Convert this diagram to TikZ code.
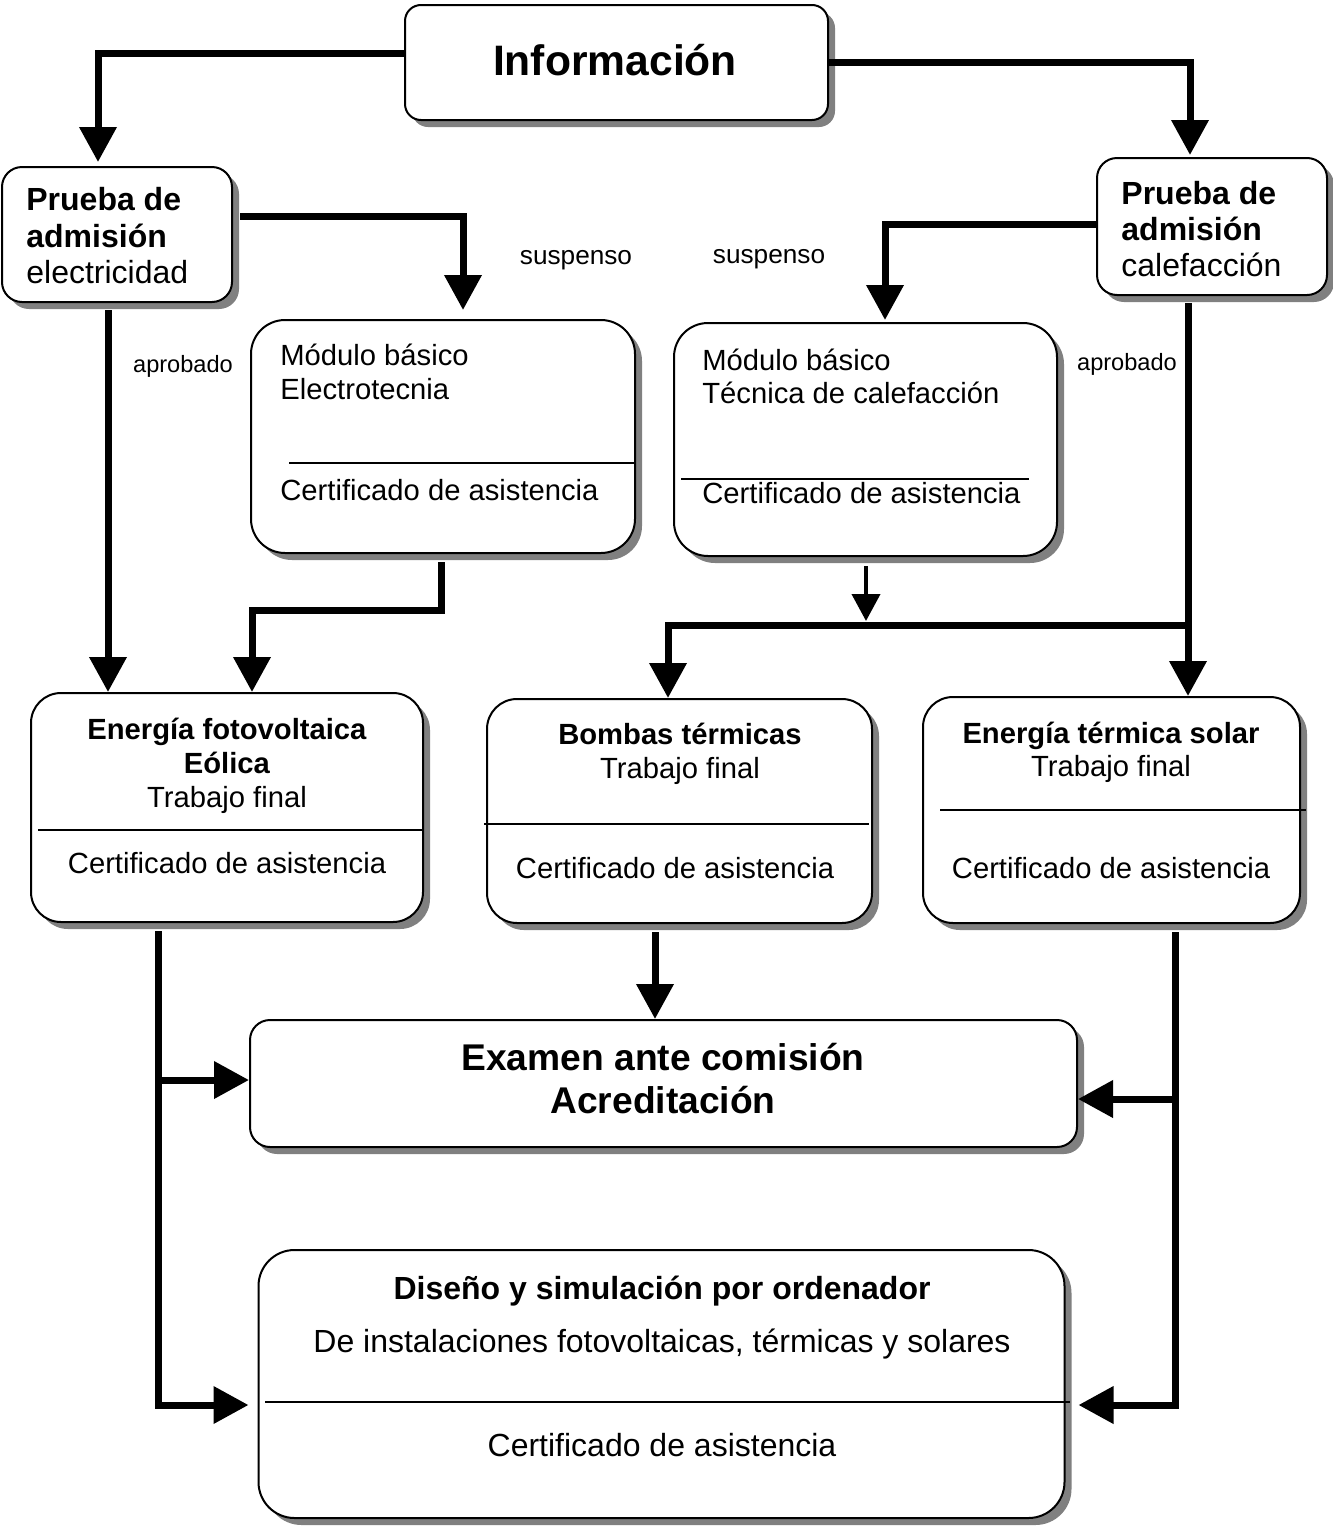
\documentclass[tikz,border=0pt]{standalone}
\usepackage{fontspec}
\setmainfont{Liberation Sans}
\usetikzlibrary{arrows.meta,shadows,positioning}

\tikzset{
  box/.style={draw,line width=1pt,fill=white,rounded corners=#1,inner sep=0pt,
    drop shadow={opacity=1,fill=black!50,shadow xshift=3.5pt,shadow yshift=-3.5pt}},
  box/.default=10pt,
  tx/.style={inner sep=0pt,font=\fontsize{14.6}{17}\selectfont},
  tb/.style={inner sep=0pt,font=\fontsize{16}{19}\selectfont},
  lab/.style={inner sep=0pt,font=\fontsize{#1}{#1}\selectfont},
  rule/.style={line width=0.9pt},
  link/.style={line width=3.5pt},
  flow/.style={line width=3.5pt,-{Triangle[length=17.5pt,width=18pt]}},
  thinflow/.style={line width=2pt,-{Triangle[length=13.5pt,width=14pt]}},
}

\begin{document}
\begin{tikzpicture}[x=0.5pt,y=-0.5pt]
\useasboundingbox (0,0) rectangle (1333,1526);

\node (info) [box=8pt,minimum width=211.5pt,minimum height=57.5pt] at (616.5,62.5) {};
\node (pe) [box,minimum width=115pt,minimum height=67.5pt] at (117,234.5) {};
\node (pc) [box,minimum width=115pt,minimum height=68.5pt] at (1212,226.5) {};
\node (me) [box=17pt,minimum width=192pt,minimum height=116.5pt] at (443,436.5) {};
\node (mc) [box=17pt,minimum width=191.5pt,minimum height=116.5pt] at (865.5,439.5) {};
\node (ef) [box=15pt,minimum width=196pt,minimum height=114.5pt] at (227,807.5) {};
\node (bt) [box=15pt,minimum width=192.5pt,minimum height=112pt] at (679.5,811) {};
\node (ets) [box=15pt,minimum width=188.5pt,minimum height=113pt] at (1111.5,810) {};
\node (ex) [box=10pt,minimum width=413.5pt,minimum height=63.5pt] at (663.5,1083.5) {};
\node (ds) [box=18pt,minimum width=403pt,minimum height=134pt] at (661.5,1384) {};

\node (infot) [anchor=base,inner sep=0pt,font=\fontsize{21.3}{25}\selectfont] at (615,75) {\textbf{Información}};

\node (pe1) [tb,anchor=base west] at (26,210) {\textbf{Prueba de}};
\node (pe2) [tb,anchor=base west] at (26,247) {\textbf{admisión}};
\node (pe3) [tb,anchor=base west] at (26,283) {electricidad};
\node (pc1) [tb,anchor=base west] at (1121,204) {\textbf{Prueba de}};
\node (pc2) [tb,anchor=base west] at (1121,240) {\textbf{admisión}};
\node (pc3) [tb,anchor=base west] at (1121,276) {calefacción};

\node (me1) [tx,anchor=base west] at (280,365) {Módulo básico};
\node (me2) [tx,anchor=base west] at (280,399) {Electrotecnia};
\draw[rule] (289,463) -- (635,463);
\node (me3) [tx,anchor=base west] at (280,500) {Certificado de asistencia};

\node (mc1) [tx,anchor=base west] at (702,370) {Módulo básico};
\node (mc2) [tx,anchor=base west] at (702,403) {Técnica de calefacción};
\draw[rule] (681,479) -- (1029,479);
\node (mc3) [tx,anchor=base west] at (702,503) {Certificado de asistencia};

\node (ef1) [tx,anchor=base] at (227,739) {\textbf{Energía fotovoltaica}};
\node (ef2) [tx,anchor=base] at (227,773) {\textbf{Eólica}};
\node (ef3) [tx,anchor=base] at (227,807) {Trabajo final};
\draw[rule] (38,830) -- (423,830);
\node (ef4) [tx,anchor=base] at (227,873) {Certificado de asistencia};

\node (bt1) [tx,anchor=base] at (680,744) {\textbf{Bombas térmicas}};
\node (bt2) [tx,anchor=base] at (680,778) {Trabajo final};
\draw[rule] (484,824) -- (869,824);
\node (bt3) [tx,anchor=base] at (675,878) {Certificado de asistencia};

\node (ets1) [tx,anchor=base] at (1111,743) {\textbf{Energía térmica solar}};
\node (ets2) [tx,anchor=base] at (1111,776) {Trabajo final};
\draw[rule] (940,810) -- (1306,810);
\node (ets3) [tx,anchor=base] at (1111,878) {Certificado de asistencia};

\node (ex1) [anchor=base,inner sep=0pt,font=\fontsize{18.6}{22}\selectfont] at (663,1070) {\textbf{Examen ante comisión}};
\node (ex2) [anchor=base,inner sep=0pt,font=\fontsize{18.6}{22}\selectfont] at (663,1113) {\textbf{Acreditación}};

\node (ds1) [tb,anchor=base] at (662,1299) {\textbf{Diseño y simulación por ordenador}};
\node (ds2) [tb,anchor=base] at (662,1352) {De instalaciones fotovoltaicas, térmicas y solares};
\draw[rule] (265,1402) -- (1070,1402);
\node (ds3) [tb,anchor=base] at (662,1456) {Certificado de asistencia};

\node (s1) [lab=13.1,anchor=base] at (576,264) {suspenso};
\node (s2) [lab=13.1,anchor=base] at (769,263) {suspenso};
\node (a1) [lab=11.8,anchor=base] at (183,372) {aprobado};
\node (a2) [lab=11.8,anchor=base] at (1127,370) {aprobado};

\coordinate (tpe) at (98,162);
\coordinate (tpc) at (1190,155);
\coordinate (tme) at (463,310);
\coordinate (tmc) at (885,320);
\coordinate (xpe) at (108,0);
\coordinate (xpc) at (1188,0);
\coordinate (kme) at (441,610);
\coordinate (kef) at (252,610);
\coordinate (jm) at (866,625);
\coordinate (jb) at (668,625);
\coordinate (xbt) at (655,0);
\coordinate (jl) at (158,1405);
\coordinate (jy) at (158,1080);
\coordinate (jr) at (1175,1405);
\coordinate (jx) at (1175,1099);

\draw[flow] ([yshift=4.75pt]info.west) -| (tpe);
\draw[flow] (info.east) -| (tpc);
\draw[flow,shorten <=3.5pt] ([yshift=9.25pt]pe.east) -| (tme);
\draw[flow] ([yshift=1.25pt]pc.west) -| (tmc);
\draw[flow,shorten <=3.5pt] (pe.south -| xpe) -- (ef.north -| xpe);
\draw[flow,shorten <=4pt] (me.south -| kme) -- (kme) -- (kef) -- (ef.north -| kef);
\draw[flow,shorten <=3.5pt] (pc.south -| xpc) -- (ets.north -| xpc);
\draw[thinflow,shorten <=4.5pt,shorten >=2pt] (mc.south -| jm) -- (jm);
\draw[flow] (jm -| xpc) -- (jb) -- (bt.north -| jb);

\draw[flow,shorten <=4pt] (bt.south -| xbt) -- (ex.north -| xbt);
\draw[flow,shorten <=4pt,shorten >=4.5pt] (ef.south -| jl) -- (jl) -- (jl -| ds.west);
\draw[flow] (jy) -- (jy -| ex.west);
\draw[flow,shorten <=4pt,shorten >=6.5pt] (ets.south -| jr) -- (jr) -- (jr -| ds.east);
\draw[flow] (jx) -- (jx -| ex.east);
\end{tikzpicture}
\end{document}
